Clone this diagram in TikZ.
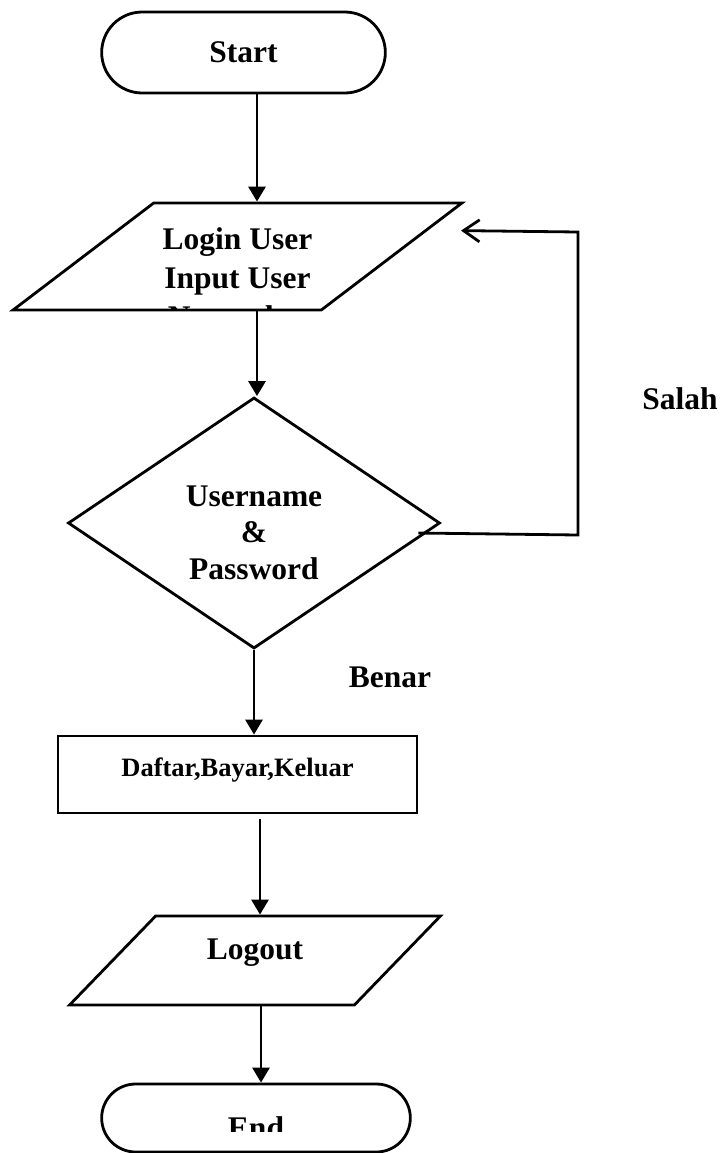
\documentclass[tikz,border=0pt]{standalone}
\usepackage{fontspec}
\setmainfont{Liberation Serif}
\usetikzlibrary{shapes.geometric,shapes.misc,arrows.meta}

\begin{document}
\begin{tikzpicture}[x=0.5pt, y=-0.5pt, line width=1.4pt,
                  every node/.style={font=\fontsize{15.75}{19.5}\selectfont\bfseries},
                  terminal/.style={rounded rectangle, draw},
                  io/.style={trapezium, trapezium left angle=50, trapezium right angle=130,
                             trapezium stretches=true, draw, inner sep=2pt},
                  decision/.style={diamond, draw, inner sep=2pt},
                  process/.style={rectangle, draw},
                  fleche/.style={-{Triangle[length=7.5pt,width=8.5pt]}},
                  retour/.style={-{Straight Barb[length=8pt,width=11pt]}}]
\useasboundingbox (0,0) rectangle (721,1153);
\node[terminal, minimum width=148.5pt, minimum height=40.5pt] (start) at (243.5,52.5) {Start};
\node[io, minimum width=224.5pt, minimum height=53.5pt,
      path picture={\node[align=center, anchor=north, inner sep=0pt] (logintext)
        at ([yshift=-10pt]path picture bounding box.north) {Login User\\Input User\\Nama dan};}]
  (login) at (237.5,256.5) {};
\node[decision, minimum width=186pt, minimum height=125.5pt] (check) at (254,523) {};
\node[align=center, font=\fontsize{15.75}{18.25}\selectfont\bfseries] (checktext)
  at ([yshift=-4.75pt]check.center) {Username\\\&\\Password};
\node[process, minimum width=179.5pt, minimum height=38.5pt,
      font=\fontsize{13.25}{16}\selectfont\bfseries, text height=9pt, text depth=7.5pt]
  (menu) at (237.5,774.5) {Daftar,Bayar,Keluar};
\node[io, minimum width=187pt, minimum height=44.5pt, text height=10.7pt, text depth=12.2pt]
  (logout) at (255,960.5) {Logout};
\node[terminal, minimum width=161pt, minimum height=34pt] (stop) at (256,1118) {};
\begin{scope}
  \clip (stop.west |- stop.north) rectangle ([yshift=-24.5pt]stop.east |- stop.north);
  \node[anchor=north, inner sep=0pt] (stoptext) at ([yshift=-16.5pt]stop.north) {End};
\end{scope}
\node (salah) at (680,399) {Salah};
\node (benar) at (390,677.5) {Benar};

\draw[fleche] ([xshift=6.75pt]start.south) -- ([xshift=6.75pt]start.south |- login.north);
\draw[fleche] ([xshift=1.5pt]check.north |- login.south) -- ([xshift=1.5pt]check.north);
\draw[fleche] (check.south) -- (check.south |- menu.north);
\draw[fleche] ([xshift=2.5pt,yshift=-2.5pt]menu.south -| logout.north) -- ([xshift=2.5pt]logout.north);
\draw[fleche] ([xshift=3pt]logout.south) -- ([xshift=3pt]logout.south |- stop.north);
\coordinate (sbas) at (578,535);
\coordinate (shaut) at (578,232);
\draw[retour] ([shift={(-23,10)}]check.east) -- (sbas) -- (shaut)
  -- ([shift={(-5,29)}]login.top right corner);
\end{tikzpicture}
\end{document}
